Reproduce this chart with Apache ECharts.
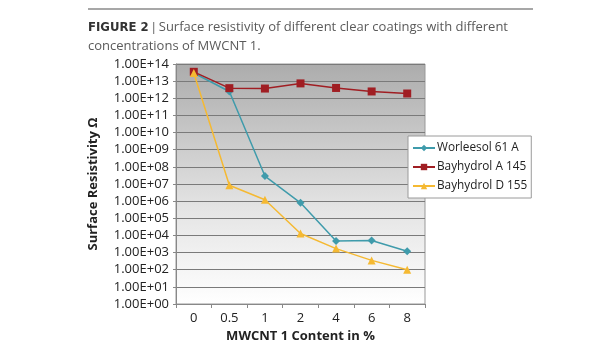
<!DOCTYPE html>
<html>
<head>
<meta charset="utf-8">
<script src="https://cdn.jsdelivr.net/npm/echarts@6/dist/echarts.min.js"></script>
<style>
  html, body { margin: 0; padding: 0; background: #fff; }
  #main { width: 615px; height: 350px; }
</style>
</head>
<body>
<div id="main"></div>
<script>
// data
var categories = ['0', '0.5', '1', '2', '4', '6', '8'];
var worleesol = [3.0e13, 2.5e12, 2.9e7, 8.0e5, 4.7e3, 5.1e3, 1.2e3];
var bayhydrolA = [3.5e13, 3.9e12, 3.7e12, 7.4e12, 4.0e12, 2.5e12, 1.9e12];
var bayhydrolD = [3.0e13, 8.5e6, 1.2e6, 1.3e4, 1.7e3, 3.5e2, 1.0e2];
var seriesNames = ['Worleesol 61 A', 'Bayhydrol A 145', 'Bayhydrol D 155'];

var font = 'Open Sans';
var chart = echarts.init(document.getElementById('main'));

function expLabel(v) {
    var e = Math.round(Math.log10(v));
    return '1.00E+' + (e < 10 ? '0' : '') + e;
}

var option = {
    animation: false,
    backgroundColor: '#fff',
    textStyle: { fontFamily: font },
    graphic: [
        {
            type: 'line',
            shape: { x1: 88, y1: 9, x2: 533, y2: 9 },
            style: { stroke: '#8a8a8a', lineWidth: 1.5 }
        },
        {
            type: 'text',
            left: 88, top: 18,
            style: {
                text: '{b|FIGURE 2} {p||} Surface resistivity of different clear coatings with different\nconcentrations of MWCNT 1.',
                fill: '#5a5a5a',
                font: '13px "Open Sans"',
                lineHeight: 19,
                rich: {
                    b: { fontFamily: 'DejaVu Sans Condensed', fontWeight: 'bold', fontSize: 13, fill: '#333' },
                    p: { fontSize: 13, fill: '#777' }
                }
            }
        }
    ],
    legend: {
        orient: 'vertical',
        left: 408,
        top: 136,
        data: seriesNames,
        backgroundColor: '#fff',
        borderColor: '#9a9a9a',
        borderWidth: 1,
        borderRadius: 0,
        padding: [6, 4, 6, 4],
        itemGap: 7,
        itemWidth: 22,
        itemHeight: 8,
        textStyle: { fontFamily: font, fontSize: 11.8, color: '#222', padding: [0, 0, 0, -3] }
    },
    grid: {
        left: 176,
        right: 190,
        top: 64,
        bottom: 46,
        show: true,
        borderColor: '#999',
        borderWidth: 1,
        backgroundColor: new echarts.graphic.LinearGradient(0, 0, 0, 1, [
            { offset: 0, color: '#acacac' },
            { offset: 0.6, color: '#e4e4e4' },
            { offset: 1, color: '#ffffff' }
        ])
    },
    xAxis: {
        type: 'category',
        data: categories,
        boundaryGap: true,
        name: 'MWCNT 1 Content in %',
        nameLocation: 'middle',
        nameGap: 26,
        nameTextStyle: { fontFamily: font, fontWeight: 'bold', fontSize: 13, color: '#222' },
        axisLine: { lineStyle: { color: '#888' } },
        axisTick: { show: true, length: 4, lineStyle: { color: '#888' } },
        axisLabel: { fontFamily: font, fontSize: 13, color: '#222', margin: 8 }
    },
    yAxis: {
        type: 'log',
        logBase: 10,
        min: 1,
        max: 1e14,
        interval: 1,
        name: 'Surface Resistivity Ω',
        nameLocation: 'middle',
        nameGap: 76,
        nameTextStyle: { fontFamily: font, fontWeight: 'bold', fontSize: 13, color: '#222' },
        axisLine: { show: true, lineStyle: { color: '#888' } },
        axisTick: { show: true, length: 3, lineStyle: { color: '#888' } },
        axisLabel: { fontFamily: font, fontSize: 13, color: '#222', margin: 7, formatter: expLabel },
        splitLine: { show: true, lineStyle: { color: '#7a7a7a', width: 1 } }
    },
    series: [
        {
            name: seriesNames[0],
            type: 'line',
            data: worleesol,
            symbol: 'diamond',
            symbolSize: 8,
            color: '#3f9bab',
            lineStyle: { width: 1.5 }
        },
        {
            name: seriesNames[1],
            type: 'line',
            data: bayhydrolA,
            symbol: 'rect',
            symbolSize: 8,
            color: '#a01e23',
            lineStyle: { width: 1.5 }
        },
        {
            name: seriesNames[2],
            type: 'line',
            data: bayhydrolD,
            symbol: 'triangle',
            symbolSize: 8,
            color: '#f5b932',
            lineStyle: { width: 1.5 }
        }
    ]
};
chart.setOption(option);
</script>
</body>
</html>
